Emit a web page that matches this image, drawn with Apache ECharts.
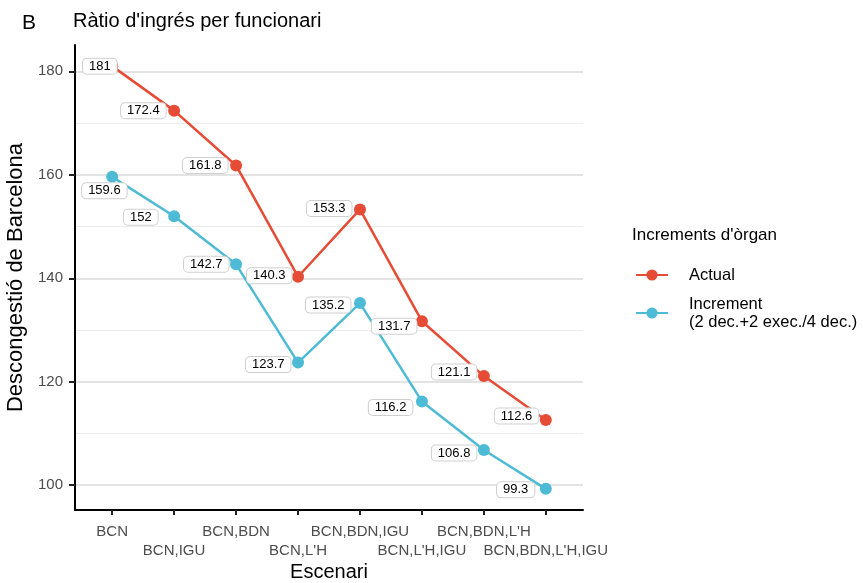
<!DOCTYPE html>
<html>
<head>
<meta charset="utf-8">
<script src="https://cdn.jsdelivr.net/npm/echarts@6/dist/echarts.min.js"></script>
<style>html,body{margin:0;padding:0;background:#fff}#c{width:863px;height:583px}</style>
</head>
<body>
<div id="c"></div>
<script>
const categories = ["BCN", "BCN,IGU", "BCN,BDN", "BCN,L'H", "BCN,BDN,IGU", "BCN,L'H,IGU", "BCN,BDN,L'H", "BCN,BDN,L'H,IGU"];
const actualValues = [181, 172.4, 161.8, 140.3, 153.3, 131.7, 121.1, 112.6];
const incrementValues = [159.6, 152, 142.7, 123.7, 135.2, 116.2, 106.8, 99.3];
const yTicks = [100, 120, 140, 160, 180];
const yMinorTicks = [110, 130, 150, 170];
const seriesNames = ["Actual", "Increment\n(2 dec.+2 exec./4 dec.)"];

// label nudges (pixels), like geom_label_repel placement
const actualLabelOffsets = [[13, 0], [0, 0], [0, 0], [2, -1], [0, -1], [3, 5], [1, -4], [1, -4]];
const incrementLabelOffsets = [[23, 14], [-8, 1], [1, 0], [1, 2], [-1, 2], [-1, 6], [1, 3], [-3, 1]];

const RED = '#E64B35', BLUE = '#4DBBD5';
const FONT = 'Liberation Sans, Arial, Helvetica, sans-serif';
const xPositions = categories.map((c, i) => i + 1);
const xRow1 = xPositions.filter((p, i) => i % 2 === 0);
const xRow2 = xPositions.filter((p, i) => i % 2 === 1);

function buildData(vals, offs) {
  return vals.map((v, i) => ({
    value: [xPositions[i], v],
    label: { offset: offs[i] }
  }));
}

const labelStyle = {
  show: true,
  position: 'left',
  distance: 2.5,
  formatter: p => String(p.value[1]),
  fontFamily: FONT,
  fontSize: 13,
  color: '#000',
  backgroundColor: '#fff',
  borderColor: '#cfcfcf',
  borderWidth: 1,
  borderRadius: 4,
  padding: [1, 6, 1, 6],
  lineHeight: 13
};

const xLabelBase = {
  showMinLabel: true,
  showMaxLabel: true,
  hideOverlap: false,
  formatter: v => categories[Math.round(v) - 1],
  fontFamily: FONT, fontSize: 15, color: '#4d4d4d', lineHeight: 18
};

const chart = echarts.init(document.getElementById('c'), null, { renderer: 'canvas' });
chart.setOption({
  animation: false,
  backgroundColor: '#fff',
  title: [
    { text: 'B', left: 22, top: 13, padding: 0, textStyle: { fontFamily: FONT, fontSize: 21, fontWeight: 'normal', color: '#000' } },
    { text: "Ràtio d'ingrés per funcionari", left: 73, top: 11, padding: 0, textStyle: { fontFamily: FONT, fontSize: 20, fontWeight: 'normal', color: '#000' } },
    { text: "Increments d'òrgan", left: 632, top: 227, padding: 0, textStyle: { fontFamily: FONT, fontSize: 17, fontWeight: 'normal', color: '#000' } }
  ],
  legend: {
    orient: 'vertical',
    left: 635,
    top: 266,
    padding: 0,
    itemWidth: 32,
    itemHeight: 14,
    itemGap: 11,
    data: seriesNames,
    textStyle: { fontFamily: FONT, fontSize: 16.5, color: '#000', lineHeight: 18, padding: [0, 0, 0, 16] }
  },
  grid: { left: 75, right: 280, top: 45, bottom: 73, containLabel: false, outerBoundsMode: 'none' },
  xAxis: [{
    type: 'value',
    min: 0.4,
    max: 8.6,
    name: 'Escenari',
    nameLocation: 'middle',
    nameGap: 52,
    nameTextStyle: { fontFamily: FONT, fontSize: 20, color: '#000' },
    axisLine: { show: true, onZero: false, lineStyle: { color: '#000', width: 2 } },
    axisTick: { show: true, length: 5, lineStyle: { color: '#222', width: 2 }, customValues: xPositions.slice() },
    axisLabel: Object.assign({ customValues: xRow1.slice(), margin: 13 }, xLabelBase),
    splitLine: { show: false }
  }, {
    type: 'value',
    position: 'bottom',
    min: 0.4,
    max: 8.6,
    axisLine: { show: false, onZero: false },
    axisTick: { show: false, customValues: xRow2.slice() },
    axisLabel: Object.assign({ customValues: xRow2.slice(), margin: 32 }, xLabelBase),
    splitLine: { show: false }
  }],
  yAxis: [{
    type: 'value',
    min: 95.215,
    max: 185.085,
    name: 'Descongestió de Barcelona',
    nameLocation: 'middle',
    nameGap: 48,
    nameTextStyle: { fontFamily: FONT, fontSize: 22, color: '#000' },
    axisLine: { show: true, onZero: false, lineStyle: { color: '#000', width: 2 } },
    axisTick: { show: true, length: 6, lineStyle: { color: '#222', width: 2 }, customValues: yTicks.slice() },
    axisLabel: { customValues: yTicks.slice(), showMinLabel: true, showMaxLabel: true, fontFamily: FONT, fontSize: 15, color: '#4d4d4d', margin: 12 },
    splitLine: { show: true, lineStyle: { color: '#e3e3e3', width: 2 } }
  }, {
    type: 'value',
    position: 'left',
    min: 95.215,
    max: 185.085,
    axisLine: { show: false },
    axisTick: { show: false, customValues: yMinorTicks.slice() },
    axisLabel: { show: false, customValues: yMinorTicks.slice() },
    splitLine: { show: true, lineStyle: { color: '#ececec', width: 1 } }
  }],
  series: [
    {
      name: seriesNames[0],
      type: 'line',
      data: buildData(actualValues, actualLabelOffsets),
      symbol: 'circle',
      symbolSize: 12,
      lineStyle: { color: RED, width: 2.5 },
      itemStyle: { color: RED },
      label: labelStyle,
      z: 3
    },
    {
      name: seriesNames[1],
      type: 'line',
      data: buildData(incrementValues, incrementLabelOffsets),
      symbol: 'circle',
      symbolSize: 12,
      lineStyle: { color: BLUE, width: 2.5 },
      itemStyle: { color: BLUE },
      label: labelStyle,
      z: 3
    }
  ]
});
</script>
</body>
</html>
